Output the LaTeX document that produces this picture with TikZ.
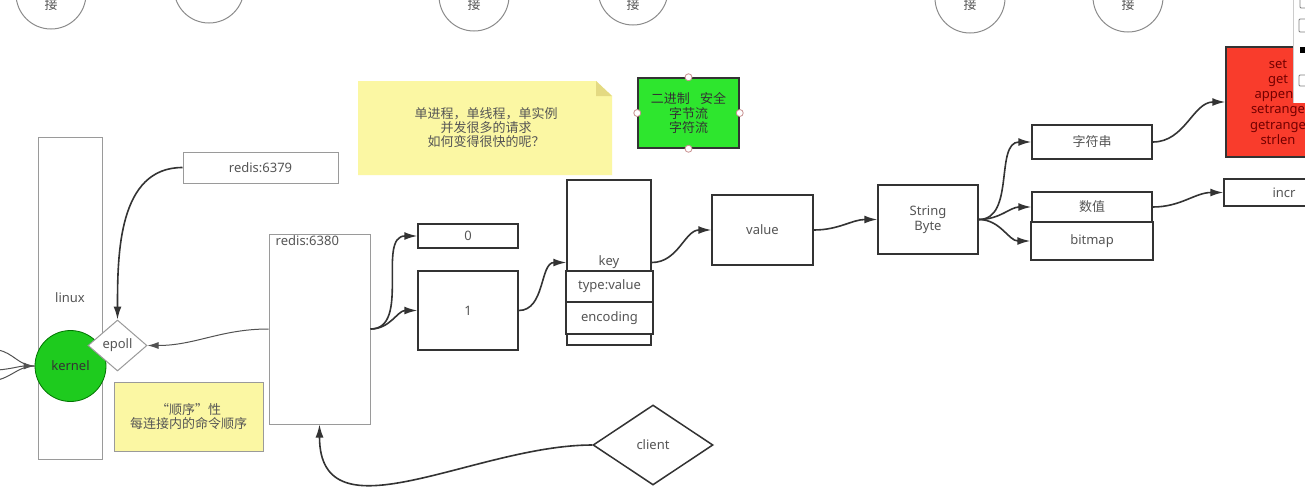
\documentclass[tikz,border=0pt]{standalone}
\usepackage{fontspec}
\setmainfont{Noto Sans}
\newfontfamily\cjk{Noto Sans CJK SC}
\usetikzlibrary{shapes.geometric,arrows.meta}
\definecolor{txtgray}{HTML}{555555}
\definecolor{linegray}{HTML}{9A9A9A}
\definecolor{dark}{HTML}{333333}
\definecolor{notey}{HTML}{FBF7A3}
\definecolor{notefold}{HTML}{E4DA82}
\definecolor{greenbox}{HTML}{2EE62E}
\definecolor{kgreen}{HTML}{1ECB1E}
\definecolor{opsred}{HTML}{F93C2C}
\definecolor{handlered}{HTML}{C89090}
\begin{document}
\begin{tikzpicture}[x=1pt, y=-1pt,
        every node/.style={font=\fontsize{13}{15}\selectfont, text=txtgray},
        cjktext/.style={font=\cjk\fontsize{13}{14.5}\selectfont},
        graybox/.style={draw=linegray, line width=1pt, fill=white, inner sep=0pt, align=center},
        darkbox/.style={draw=dark, line width=1.5pt, fill=white, inner sep=0pt, align=center},
        conn/.style={circle, draw=gray!90, line width=1pt, minimum size=70pt, inner sep=0pt},
        handle/.style={circle, draw=handlered, fill=white, line width=0.8pt, minimum size=7pt, inner sep=0pt},
        arr/.style={dark, line width=1.6pt, -{Latex[length=13pt,width=8pt]}},
        thinarr/.style={dark!85, line width=1pt, -{Latex[length=11pt,width=7pt]}}]
        \useasboundingbox (0,0) rectangle (1305,498);
        \clip (0,0) rectangle (1305,498);
        \fill[white] (0,0) rectangle (1305,498);
        \node[conn] (c1) at (51,-6) {};
        \node[conn] (c2) at (209,-12) {};
        \node[conn] (c3) at (474,-4) {};
        \node[conn] (c4) at (633,-10) {};
        \node[conn] (c5) at (970,-2) {};
        \node[conn] (c6) at (1128,-3) {};
        \node[cjktext] (t1) at (51,5) {接};
        \node[cjktext] (t3) at (474,5) {接};
        \node[cjktext] (t4) at (633,5) {接};
        \node[cjktext] (t5) at (970,5) {接};
        \node[cjktext] (t6) at (1128,5) {接};
        \node[graybox, minimum width=64pt, minimum height=322pt] (linux) at (70,298) {linux};
        \node[circle, draw=green!45!black, fill=kgreen, line width=0.8pt, minimum size=71pt, inner sep=0pt, text=black!80] (kernel) at (70.5,366) {kernel};
        \node[diamond, draw=linegray, fill=white, line width=1pt, minimum width=59pt, minimum height=51pt, inner sep=0pt] (epoll) at (117.5,345.5) {epoll};
        \node[graybox, minimum width=155pt, minimum height=31pt] (r6379) at (260.5,167.5) {redis:6379};
        \node[graybox, minimum width=101pt, minimum height=190pt,
            label={[anchor=north west, inner sep=0pt, xshift=7pt, yshift=-2pt]north west:redis:6380}] (r6380) at (319.5,329) {};
        \node[graybox, cjktext, fill=notey, minimum width=149pt, minimum height=69pt] (order) at (188.5,416.5) {“顺序”性\\每连接内的命令顺序};
        \node[diamond, draw=dark, line width=1.5pt, fill=white, minimum width=120pt, minimum height=80pt, inner sep=0pt] (client) at (653,445) {client};
        \fill[notey] (358,81) -- (596,81) -- (612,96) -- (612,175) -- (358,175) -- cycle;
        \fill[notefold] (596,81) -- (612,96) -- (596,96) -- cycle;
        \node[cjktext, align=center, font=\cjk\fontsize{13}{14}\selectfont] (single) at (486,128) {单进程，单线程，单实例\\并发很多的请求\\如何变得很快的呢？};
        \node[darkbox, cjktext, fill=greenbox, text=dark, minimum width=101pt, minimum height=70pt] (bin) at (688.5,113) {二进制\hspace{0.8em}安全\\字节流\\字符流};
        \node[handle] (h1) at (bin.north) {};
        \node[handle] (h2) at (bin.south) {};
        \node[handle] (h3) at (bin.west) {};
        \node[handle] (h4) at (bin.east) {};
        \node[darkbox, minimum width=100pt, minimum height=24pt] (db0) at (468,236) {0};
        \node[darkbox, minimum width=100pt, minimum height=79pt] (db1) at (468,310.5) {1};
        \node[darkbox, minimum width=84pt, minimum height=165pt] (key) at (609,262.5) {key};
        \node[darkbox, minimum width=87pt, minimum height=31pt] (type) at (609.5,286.5) {type:value};
        \node[darkbox, minimum width=87pt, minimum height=32pt] (enc) at (609.5,318) {encoding};
        \node[darkbox, minimum width=101pt, minimum height=70pt] (value) at (762.5,230) {value};
        \node[darkbox, minimum width=100pt, minimum height=69pt] (sbyte) at (928,219.5) {String\\Byte};
        \node[darkbox, cjktext, minimum width=120pt, minimum height=34pt] (str) at (1092,142) {字符串};
        \node[darkbox, cjktext, minimum width=120pt, minimum height=30pt] (num) at (1092,207) {数值};
        \node[darkbox, minimum width=122pt, minimum height=38pt] (bitmap) at (1092,241) {bitmap};
        \node[darkbox, minimum width=120pt, minimum height=27pt] (incr) at (1284,192.5) {incr};
        \node[darkbox, fill=opsred, text=red!45!black, font=\fontsize{13}{15.2}\selectfont, minimum width=104pt, minimum height=110pt] (ops) at (1278,102) {set\\get\\append\\setrange\\getrange\\strlen};
        \coordinate (in1) at (-2,350);
        \coordinate (in2) at (-2,370);
        \coordinate (in3) at (-2,380);
        \draw[dark!85, line width=1pt] (in1) to[out=-10, in=180] (kernel.west);
        \draw[thinarr] (in2) to[out=5, in=180] (kernel.west);
        \draw[dark!85, line width=1pt] (in3) to[out=15, in=180] (kernel.west);
        \draw[arr] (r6379.west) to[out=180, in=90] (epoll.north);
        \draw[thinarr] (r6380.west) to[out=180, in=0] (epoll.east);
        \draw[arr] (client.west) to[out=180, in=-90, looseness=1.1] (r6380.south);
        \draw[arr] (r6380.east) to[out=0, in=180] (db0.west);
        \draw[arr] (r6380.east) to[out=0, in=180] (db1.west);
        \draw[arr] (db1.east) to[out=0, in=180] (key.west);
        \draw[arr] (key.east) to[out=0, in=180] (value.west);
        \draw[arr] (value.east) to[out=0, in=180] (sbyte.west);
        \draw[arr] (sbyte.east) to[out=0, in=180] (str.west);
        \draw[arr] (sbyte.east) to[out=0, in=180] (num.west);
        \draw[arr] (sbyte.east) to[out=0, in=180] (bitmap.west);
        \draw[arr] (str.east) to[out=0, in=180] (ops.west);
        \draw[arr] (num.east) to[out=0, in=180] (incr.west);
        \fill[white] (1293,0) rectangle (1305,103);
        \draw[gray!40] (1293,0) -- (1293,103);
        \draw[gray, line width=0.8pt, rounded corners=1pt] (1300,-3) rectangle (1310,8);
        \draw[gray, line width=0.8pt, rounded corners=1pt] (1299,19) rectangle (1310,32);
        \fill[black] (1300,47) rectangle (1305,53);
        \draw[gray, line width=0.8pt, rounded corners=1pt] (1299,75) rectangle (1310,86);
\end{tikzpicture}
\end{document}
